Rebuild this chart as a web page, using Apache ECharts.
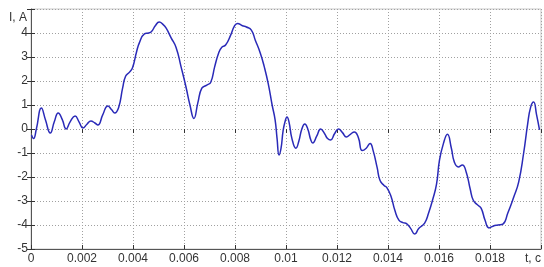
<!DOCTYPE html>
<html>
<head>
<meta charset="utf-8">
<script src="https://cdn.jsdelivr.net/npm/echarts@6/dist/echarts.min.js"></script>
<style>
  html, body { margin: 0; padding: 0; background: #fff; }
  #chart { width: 544px; height: 267px; }
</style>
</head>
<body>
<div id="chart"></div>
<script>
// time, s
var tValues = [
    0.00002, 0.00010, 0.00021, 0.000408, 0.000563, 0.000757, 0.000913, 0.001068, 0.001223, 0.001379,
    0.001534, 0.001728, 0.001883, 0.002039, 0.002194, 0.002350, 0.002505, 0.002621, 0.002816, 0.003010,
    0.003165, 0.003282, 0.003437, 0.003592, 0.003709, 0.003864, 0.003981, 0.004136, 0.004252, 0.004447,
    0.004602, 0.004718, 0.004874, 0.005029, 0.005184, 0.005301, 0.005495, 0.005689, 0.005883, 0.006078,
    0.006233, 0.006388, 0.006544, 0.006699, 0.006893, 0.007049, 0.007204, 0.007359, 0.007476, 0.007631,
    0.007825, 0.007981, 0.008097, 0.008291, 0.008447, 0.008641, 0.008796, 0.008990, 0.009146, 0.009301,
    0.009456, 0.009573, 0.009650, 0.009728, 0.009806, 0.009883, 0.009961, 0.010039, 0.010117, 0.010233,
    0.010388, 0.010505, 0.010621, 0.010738, 0.010854, 0.010971, 0.011049, 0.011204, 0.011359, 0.011515,
    0.011631, 0.011748, 0.011903, 0.012058, 0.012214, 0.012369, 0.012524, 0.012680, 0.012835, 0.012990,
    0.013146, 0.013301, 0.013417, 0.013573, 0.013689, 0.013845, 0.013961, 0.014117, 0.014272, 0.014427,
    0.014583, 0.014738, 0.014893, 0.015049, 0.015204, 0.015437, 0.015592, 0.015748, 0.015903, 0.016019,
    0.016175, 0.016330, 0.016485, 0.016602, 0.016757, 0.016913, 0.017068, 0.017223, 0.017340, 0.017495,
    0.017650, 0.017806, 0.017961, 0.018117, 0.018311, 0.018505, 0.018699, 0.018932, 0.019126, 0.019320,
    0.019476, 0.019592, 0.019709, 0.019825, 0.019942
];
// current, A
var iValues = [
    -0.25, -0.4, 0.0, 0.87, 0.4, -0.17, 0.3, 0.67, 0.4, 0.0,
    0.3, 0.54, 0.3, 0.04, 0.2, 0.33, 0.25, 0.17, 0.6, 0.96,
    0.8, 0.67, 0.9, 1.7, 2.2, 2.37, 2.55, 3.2, 3.6, 3.96,
    4.0, 4.05, 4.3, 4.46, 4.35, 4.2, 3.8, 3.4, 2.6, 1.75,
    1.0, 0.44, 1.1, 1.7, 1.83, 1.95, 2.6, 3.17, 3.4, 3.5,
    3.9, 4.3, 4.4, 4.3, 4.25, 4.12, 3.7, 3.17, 2.6, 1.9,
    1.0, 0.38, -0.4, -1.08, -0.8, -0.1, 0.3, 0.5, 0.3, -0.4,
    -0.8, -0.5, 0.0, 0.21, 0.0, -0.45, -0.58, -0.3, 0.0, -0.2,
    -0.4, -0.46, -0.2, 0.0, -0.15, -0.33, -0.22, -0.12, -0.35, -0.9,
    -0.8, -0.6, -0.9, -1.6, -2.15, -2.35, -2.45, -2.8, -3.4, -3.8,
    -3.9, -3.95, -4.15, -4.38, -4.15, -3.92, -3.5, -2.96, -2.3, -1.3,
    -0.6, -0.22, -0.8, -1.38, -1.58, -1.5, -1.8, -2.5, -2.96, -3.15,
    -3.3, -3.8, -4.12, -4.05, -4.0, -3.96, -3.5, -2.83, -2.2, -1.0,
    0.2, 0.9, 1.12, 0.6, -0.04
];

var xLabelMax = 't, c';
var yAxisName = 'I, A';

var points = tValues.map(function (t, i) { return [t, iValues[i]]; });

var chart = echarts.init(document.getElementById('chart'));

var labelFont = { fontFamily: 'Liberation Sans, Arial, sans-serif', fontSize: 12, color: '#333' };
var gridLine = { show: true, lineStyle: { color: '#a0a0a0', type: [1, 2], width: 1 } };

var option = {
    animation: false,
    backgroundColor: '#fff',
    grid: {
        left: 31,
        right: 1,
        top: 9,
        bottom: 18,
        show: true,
        borderColor: '#c8c8c8',
        borderWidth: 1
    },
    xAxis: [
        {
            type: 'value',
            min: 0,
            max: 0.02,
            interval: 0.002,
            axisLine: { show: true, onZero: false, lineStyle: { color: '#555' } },
            axisTick: { show: true, inside: true, length: 4, lineStyle: { color: '#333' } },
            axisLabel: Object.assign({
                margin: 4,
                alignMaxLabel: 'right',
                formatter: function (v) {
                    if (Math.abs(v - 0.02) < 1e-9) return xLabelMax;
                    return v === 0 ? '0' : String(+v.toFixed(3));
                }
            }, labelFont),
            splitLine: gridLine
        },
        {
            type: 'value',
            position: 'top',
            min: 0,
            max: 0.02,
            interval: 0.002,
            axisLine: { show: false },
            axisTick: { show: true, inside: true, length: 4, lineStyle: { color: '#333' } },
            axisLabel: { show: false },
            splitLine: { show: false }
        }
    ],
    yAxis: [
        {
            type: 'value',
            min: -5,
            max: 5,
            interval: 1,
            name: yAxisName,
            nameLocation: 'end',
            nameGap: -9,
            nameTextStyle: Object.assign({ align: 'right', verticalAlign: 'middle', padding: [0, 4, 0, 0] }, labelFont),
            axisLine: { show: true, onZero: false, lineStyle: { color: '#555' } },
            axisTick: { show: true, inside: true, length: 4, lineStyle: { color: '#333' } },
            axisLabel: Object.assign({
                margin: 3,
                formatter: function (v) {
                    return v === 5 ? '' : String(v);
                }
            }, labelFont),
            splitLine: gridLine
        },
        {
            type: 'value',
            position: 'right',
            min: -5,
            max: 5,
            interval: 1,
            axisLine: { show: false },
            axisTick: { show: true, inside: true, length: 4, lineStyle: { color: '#333' } },
            axisLabel: { show: false },
            splitLine: { show: false }
        }
    ],
    series: [
        {
            type: 'line',
            data: points,
            smooth: 0.5,
            showSymbol: false,
            lineStyle: { color: '#2a2ab8', width: 1.5 }
        }
    ]
};

chart.setOption(option);
</script>
</body>
</html>
